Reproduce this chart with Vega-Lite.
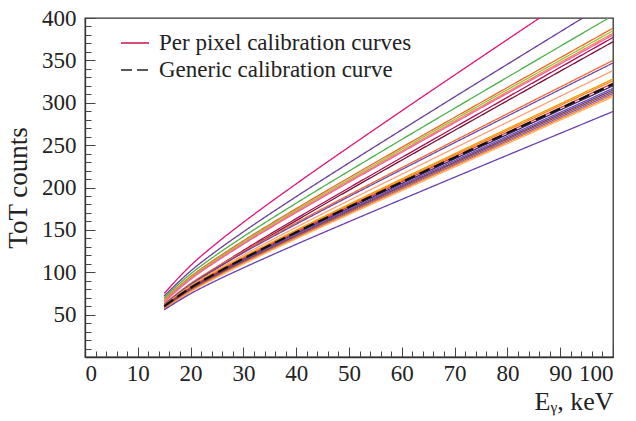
{
  "$schema": "https://vega.github.io/schema/vega-lite/v6.json",
  "width": 528,
  "height": 339,
  "autosize": {"type": "none"},
  "padding": {"left": 85, "top": 18, "right": 23, "bottom": 64},
  "background": "white",
  "config": {
    "view": {"stroke": "#333", "strokeWidth": 1.3},
    "axis": {"grid": false, "tickColor": "#444", "domainColor": "#333", "domainWidth": 1.3}
  },
  "datasets": {
    "pixels": [
      {"c":"p1","x":15,"y":75},{"c":"p1","x":20,"y":107.9},{"c":"p1","x":25,"y":134.6},{"c":"p1","x":30,"y":158.9},{"c":"p1","x":40,"y":204.3},{"c":"p1","x":50,"y":247.8},{"c":"p1","x":60,"y":290.5},{"c":"p1","x":70,"y":332.7},{"c":"p1","x":80,"y":374.6},{"c":"p1","x":90,"y":416.4},{"c":"p1","x":100,"y":458},
      {"c":"p2","x":15,"y":72},{"c":"p2","x":20,"y":101.4},{"c":"p2","x":25,"y":125.6},{"c":"p2","x":30,"y":147.7},{"c":"p2","x":40,"y":189.2},{"c":"p2","x":50,"y":229},{"c":"p2","x":60,"y":268.1},{"c":"p2","x":70,"y":306.9},{"c":"p2","x":80,"y":345.4},{"c":"p2","x":90,"y":383.7},{"c":"p2","x":100,"y":422},
      {"c":"p3","x":15,"y":70},{"c":"p3","x":20,"y":98},{"c":"p3","x":25,"y":121},{"c":"p3","x":30,"y":142},{"c":"p3","x":40,"y":181.5},{"c":"p3","x":50,"y":219.4},{"c":"p3","x":60,"y":256.7},{"c":"p3","x":70,"y":293.5},{"c":"p3","x":80,"y":330.1},{"c":"p3","x":90,"y":366.6},{"c":"p3","x":100,"y":403},
      {"c":"p4","x":15,"y":68},{"c":"p4","x":20,"y":94.9},{"c":"p4","x":25,"y":117},{"c":"p4","x":30,"y":137.2},{"c":"p4","x":40,"y":175.1},{"c":"p4","x":50,"y":211.6},{"c":"p4","x":60,"y":247.4},{"c":"p4","x":70,"y":282.8},{"c":"p4","x":80,"y":318},{"c":"p4","x":90,"y":353.1},{"c":"p4","x":100,"y":388},
      {"c":"p5","x":15,"y":67},{"c":"p5","x":20,"y":93.7},{"c":"p5","x":25,"y":115.7},{"c":"p5","x":30,"y":135.8},{"c":"p5","x":40,"y":173.4},{"c":"p5","x":50,"y":209.6},{"c":"p5","x":60,"y":245.2},{"c":"p5","x":70,"y":280.4},{"c":"p5","x":80,"y":315.4},{"c":"p5","x":90,"y":350.2},{"c":"p5","x":100,"y":385},
      {"c":"p6","x":15,"y":66},{"c":"p6","x":20,"y":92.6},{"c":"p6","x":25,"y":114.4},{"c":"p6","x":30,"y":134.3},{"c":"p6","x":40,"y":171.8},{"c":"p6","x":50,"y":207.8},{"c":"p6","x":60,"y":243.1},{"c":"p6","x":70,"y":278.1},{"c":"p6","x":80,"y":312.8},{"c":"p6","x":90,"y":347.5},{"c":"p6","x":100,"y":382},
      {"c":"p7","x":15,"y":65},{"c":"p7","x":20,"y":91.5},{"c":"p7","x":25,"y":113.2},{"c":"p7","x":30,"y":133.1},{"c":"p7","x":40,"y":170.4},{"c":"p7","x":50,"y":206.3},{"c":"p7","x":60,"y":241.5},{"c":"p7","x":70,"y":276.4},{"c":"p7","x":80,"y":311.1},{"c":"p7","x":90,"y":345.6},{"c":"p7","x":100,"y":380},
      {"c":"p8","x":15,"y":60},{"c":"p8","x":20,"y":84.9},{"c":"p8","x":25,"y":106.1},{"c":"p8","x":30,"y":125.8},{"c":"p8","x":40,"y":163.3},{"c":"p8","x":50,"y":199.6},{"c":"p8","x":60,"y":235.4},{"c":"p8","x":70,"y":271},{"c":"p8","x":80,"y":306.4},{"c":"p8","x":90,"y":341.8},{"c":"p8","x":100,"y":377},
      {"c":"p9","x":15,"y":59},{"c":"p9","x":20,"y":83.6},{"c":"p9","x":25,"y":104.5},{"c":"p9","x":30,"y":123.9},{"c":"p9","x":40,"y":160.9},{"c":"p9","x":50,"y":196.9},{"c":"p9","x":60,"y":232.3},{"c":"p9","x":70,"y":267.4},{"c":"p9","x":80,"y":302.4},{"c":"p9","x":90,"y":337.2},{"c":"p9","x":100,"y":372},
      {"c":"p10","x":15,"y":63},{"c":"p10","x":20,"y":86.7},{"c":"p10","x":25,"y":106.4},{"c":"p10","x":30,"y":124.4},{"c":"p10","x":40,"y":158.4},{"c":"p10","x":50,"y":191.2},{"c":"p10","x":60,"y":223.4},{"c":"p10","x":70,"y":255.3},{"c":"p10","x":80,"y":287},{"c":"p10","x":90,"y":318.5},{"c":"p10","x":100,"y":350},
      {"c":"p11","x":15,"y":62},{"c":"p11","x":20,"y":85.6},{"c":"p11","x":25,"y":105.1},{"c":"p11","x":30,"y":123},{"c":"p11","x":40,"y":156.7},{"c":"p11","x":50,"y":189.3},{"c":"p11","x":60,"y":221.2},{"c":"p11","x":70,"y":252.9},{"c":"p11","x":80,"y":284.3},{"c":"p11","x":90,"y":315.7},{"c":"p11","x":100,"y":347},
      {"c":"p12","x":15,"y":61},{"c":"p12","x":20,"y":83.9},{"c":"p12","x":25,"y":102.9},{"c":"p12","x":30,"y":120.3},{"c":"p12","x":40,"y":153.1},{"c":"p12","x":50,"y":184.7},{"c":"p12","x":60,"y":215.7},{"c":"p12","x":70,"y":246.5},{"c":"p12","x":80,"y":277.1},{"c":"p12","x":90,"y":307.6},{"c":"p12","x":100,"y":338},
      {"c":"p13","x":15,"y":61},{"c":"p13","x":20,"y":83.1},{"c":"p13","x":25,"y":101.4},{"c":"p13","x":30,"y":118.2},{"c":"p13","x":40,"y":149.8},{"c":"p13","x":50,"y":180.2},{"c":"p13","x":60,"y":210.2},{"c":"p13","x":70,"y":239.8},{"c":"p13","x":80,"y":269.3},{"c":"p13","x":90,"y":298.7},{"c":"p13","x":100,"y":328},
      {"c":"p14","x":15,"y":60},{"c":"p14","x":20,"y":82},{"c":"p14","x":25,"y":100.2},{"c":"p14","x":30,"y":116.9},{"c":"p14","x":40,"y":148.4},{"c":"p14","x":50,"y":178.8},{"c":"p14","x":60,"y":208.6},{"c":"p14","x":70,"y":238.2},{"c":"p14","x":80,"y":267.5},{"c":"p14","x":90,"y":296.8},{"c":"p14","x":100,"y":326},
      {"c":"p15","x":15,"y":60},{"c":"p15","x":20,"y":81.7},{"c":"p15","x":25,"y":99.8},{"c":"p15","x":30,"y":116.3},{"c":"p15","x":40,"y":147.4},{"c":"p15","x":50,"y":177.4},{"c":"p15","x":60,"y":206.9},{"c":"p15","x":70,"y":236.2},{"c":"p15","x":80,"y":265.2},{"c":"p15","x":90,"y":294.1},{"c":"p15","x":100,"y":323},
      {"c":"p16","x":15,"y":59},{"c":"p16","x":20,"y":80.6},{"c":"p16","x":25,"y":98.5},{"c":"p16","x":30,"y":114.9},{"c":"p16","x":40,"y":145.8},{"c":"p16","x":50,"y":175.6},{"c":"p16","x":60,"y":204.8},{"c":"p16","x":70,"y":233.8},{"c":"p16","x":80,"y":262.6},{"c":"p16","x":90,"y":291.4},{"c":"p16","x":100,"y":320},
      {"c":"p17","x":15,"y":59},{"c":"p17","x":20,"y":80.3},{"c":"p17","x":25,"y":98},{"c":"p17","x":30,"y":114.2},{"c":"p17","x":40,"y":144.8},{"c":"p17","x":50,"y":174.2},{"c":"p17","x":60,"y":203.1},{"c":"p17","x":70,"y":231.8},{"c":"p17","x":80,"y":260.3},{"c":"p17","x":90,"y":288.7},{"c":"p17","x":100,"y":317},
      {"c":"p18","x":15,"y":58},{"c":"p18","x":20,"y":79.2},{"c":"p18","x":25,"y":96.9},{"c":"p18","x":30,"y":113},{"c":"p18","x":40,"y":143.4},{"c":"p18","x":50,"y":172.8},{"c":"p18","x":60,"y":201.6},{"c":"p18","x":70,"y":230.1},{"c":"p18","x":80,"y":258.5},{"c":"p18","x":90,"y":286.8},{"c":"p18","x":100,"y":315},
      {"c":"p19","x":15,"y":58},{"c":"p19","x":20,"y":79.1},{"c":"p19","x":25,"y":96.6},{"c":"p19","x":30,"y":112.6},{"c":"p19","x":40,"y":142.8},{"c":"p19","x":50,"y":171.9},{"c":"p19","x":60,"y":200.5},{"c":"p19","x":70,"y":228.8},{"c":"p19","x":80,"y":257},{"c":"p19","x":90,"y":285},{"c":"p19","x":100,"y":313},
      {"c":"p20","x":15,"y":57},{"c":"p20","x":20,"y":78},{"c":"p20","x":25,"y":95.4},{"c":"p20","x":30,"y":111.4},{"c":"p20","x":40,"y":141.4},{"c":"p20","x":50,"y":170.4},{"c":"p20","x":60,"y":198.9},{"c":"p20","x":70,"y":227.1},{"c":"p20","x":80,"y":255.2},{"c":"p20","x":90,"y":283.1},{"c":"p20","x":100,"y":311},
      {"c":"p21","x":15,"y":57},{"c":"p21","x":20,"y":77.8},{"c":"p21","x":25,"y":95.1},{"c":"p21","x":30,"y":110.9},{"c":"p21","x":40,"y":140.8},{"c":"p21","x":50,"y":169.5},{"c":"p21","x":60,"y":197.8},{"c":"p21","x":70,"y":225.8},{"c":"p21","x":80,"y":253.6},{"c":"p21","x":90,"y":281.3},{"c":"p21","x":100,"y":309},
      {"c":"p22","x":15,"y":56},{"c":"p22","x":20,"y":76.8},{"c":"p22","x":25,"y":94},{"c":"p22","x":30,"y":109.7},{"c":"p22","x":40,"y":139.5},{"c":"p22","x":50,"y":168.1},{"c":"p22","x":60,"y":196.2},{"c":"p22","x":70,"y":224.1},{"c":"p22","x":80,"y":251.8},{"c":"p22","x":90,"y":279.5},{"c":"p22","x":100,"y":307},
      {"c":"p23","x":15,"y":55.7},{"c":"p23","x":20,"y":74.7},{"c":"p23","x":25,"y":90.6},{"c":"p23","x":30,"y":105.2},{"c":"p23","x":40,"y":132.9},{"c":"p23","x":50,"y":159.7},{"c":"p23","x":60,"y":186},{"c":"p23","x":70,"y":212.1},{"c":"p23","x":80,"y":238.1},{"c":"p23","x":90,"y":263.9},{"c":"p23","x":100,"y":289.7}
    ],
    "generic": [
      {"x":15,"y":60},{"x":20,"y":81.7},{"x":25,"y":99.6},{"x":30,"y":116.1},{"x":40,"y":147.1},{"x":50,"y":177},{"x":60,"y":206.4},{"x":70,"y":235.5},{"x":80,"y":264.4},{"x":90,"y":293.2},{"x":100,"y":322}
    ]
  },
  "layer": [
    {
      "data": {"name": "pixels"},
      "mark": {"type": "line", "clip": true, "strokeWidth": 1.3, "interpolate": "monotone"},
      "encoding": {
        "x": {"field": "x", "type": "quantitative", "scale": {"domain": [0, 100], "nice": false},
          "axis": {"orient": "bottom", "values": [0,10,20,30,40,50,60,70,80,90,100], "tickSize": -10, "labelPadding": 15,
            "labelFont": "Liberation Serif", "labelFontSize": 23, "labelColor": "#222",
            "title": "Eᵧ, keV", "titleFont": "Liberation Serif", "titleFontSize": 26, "titleFontWeight": "normal", "titleColor": "#222", "titleAnchor": "end", "titlePadding": 3}},
        "y": {"field": "y", "type": "quantitative", "scale": {"domain": [0, 400], "nice": false, "zero": true},
          "axis": {"orient": "left", "values": [50,100,150,200,250,300,350,400], "tickSize": -10, "labelPadding": 19,
            "labelFont": "Liberation Serif", "labelFontSize": 23, "labelColor": "#222",
            "title": "ToT counts", "titleFont": "Liberation Serif", "titleFontSize": 27, "titleFontWeight": "normal", "titleColor": "#222", "titlePadding": 9}},
        "color": {"field": "c", "type": "nominal", "legend": null,
          "scale": {"domain": ["p1","p2","p3","p4","p5","p6","p7","p8","p9","p10","p11","p12","p13","p14","p15","p16","p17","p18","p19","p20","p21","p22","p23"],
            "range": ["#e0157a","#6a3d9a","#4daf4a","#f26522","#8fc640","#f7804a","#f062a8","#a50f4f","#7a0f3a","#f26a2a","#6a48b0","#ffa07a","#f59c00","#f7841e","#e3342f","#3b2466","#6f4bb0","#5c3c9e","#a34a1d","#7e57c2","#f37b21","#ffb066","#6a3fb0"]}},
        "strokeDash": {"datum": "Per pixel calibration curves", "type": "nominal",
          "scale": {"domain": ["Per pixel calibration curves", "Generic calibration curve"], "range": [[1, 0], [11, 5]]},
          "legend": {"title": null, "orient": "none", "legendX": 35, "legendY": 10, "symbolType": "stroke", "symbolSize": 784, "symbolStrokeWidth": 1.4, "rowPadding": 0, "labelOffset": 9, "labelLimit": 0,
            "labelFont": "Liberation Serif", "labelFontSize": 23, "labelColor": "#222",
            "encode": {"symbols": {"update": {"stroke": {"signal": "datum.value === 'Generic calibration curve' ? '#222' : '#c8144c'"}}}}}}
      }
    },
    {
      "data": {"name": "generic"},
      "mark": {"type": "line", "clip": true, "strokeWidth": 2.2, "color": "#111", "interpolate": "monotone"},
      "encoding": {
        "x": {"field": "x", "type": "quantitative",
          "axis": {"orient": "bottom", "values": [2,4,6,8,12,14,16,18,22,24,26,28,32,34,36,38,42,44,46,48,52,54,56,58,62,64,66,68,72,74,76,78,82,84,86,88,92,94,96,98], "tickSize": -6, "labels": false, "domain": false, "title": null}},
        "y": {"field": "y", "type": "quantitative",
          "axis": {"orient": "left", "values": [10,20,30,40,60,70,80,90,110,120,130,140,160,170,180,190,210,220,230,240,260,270,280,290,310,320,330,340,360,370,380,390], "tickSize": -6, "labels": false, "domain": false, "title": null}},
        "strokeDash": {"datum": "Generic calibration curve", "type": "nominal"}
      }
    }
  ],
  "resolve": {"axis": {"x": "independent", "y": "independent"}}
}
